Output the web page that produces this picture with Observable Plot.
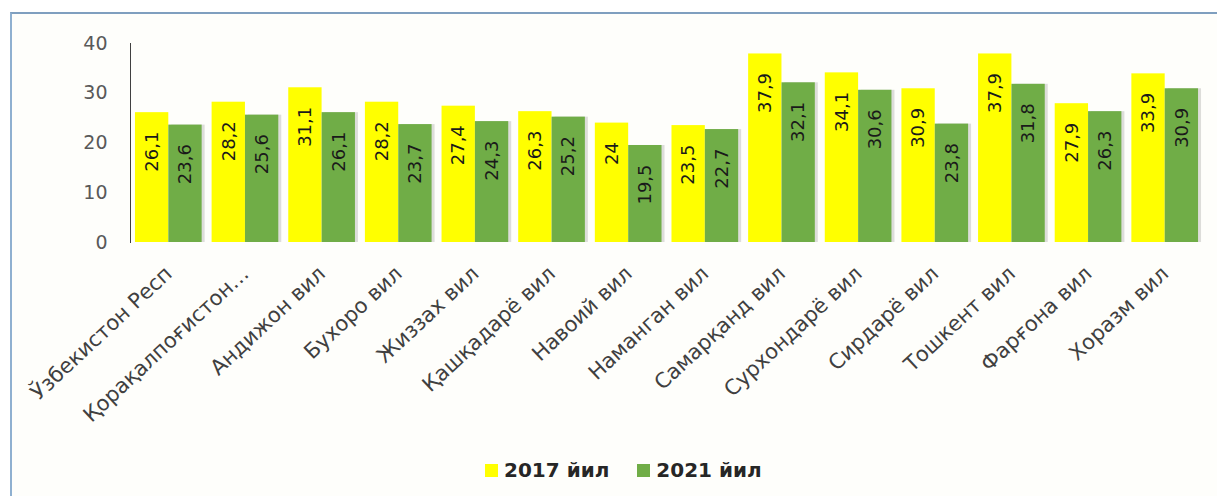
<!DOCTYPE html>
<html>
<head>
<meta charset="utf-8">
<script src="https://cdn.jsdelivr.net/npm/d3@7"></script>
<script src="https://cdn.jsdelivr.net/npm/@observablehq/plot@0.6"></script>
<style>
  html, body { margin: 0; padding: 0; background: #ffffff; }
  #wrap { position: relative; width: 1217px; height: 496px; overflow: hidden; background: #ffffff; }
  #frame { position: absolute; left: 10px; top: 12px; width: 1215px; height: 490px;
           border-left: 2px solid #8fb0d0; border-top: 2px solid #7f9fbf; background: #fefefb; }
  #chart { position: absolute; left: 0; top: 0; }
  #chart svg { overflow: visible; }
  #chart g[aria-label^="y-axis"] text { font-size: 19px; fill: #595959; }
  #chart g[aria-label^="x-axis"] text { font-size: 21px; fill: #404040; }
  #legend { position: absolute; left: 485px; top: 458px; display: flex; align-items: center;
            font-family: "DejaVu Sans", sans-serif; font-weight: bold; font-size: 20px; color: #262626; }
  #legend .item { display: flex; align-items: center; margin-right: 28px; }
  #legend .sw { width: 13px; height: 13px; margin-right: 6px; }
</style>
</head>
<body>
<div id="wrap">
  <div id="frame"></div>
  <div id="chart"></div>
  <div id="legend"></div>
</div>
<script>
const regions = [
  "Ўзбекистон Респ", "Қорақалпоғистон…", "Андижон вил", "Бухоро вил", "Жиззах вил",
  "Қашқадарё вил", "Навоий вил", "Наманган вил", "Самарқанд вил", "Сурхондарё вил",
  "Сирдарё вил", "Тошкент вил", "Фарғона вил", "Хоразм вил"
];
const values2017 = [26.1, 28.2, 31.1, 28.2, 27.4, 26.3, 24, 23.5, 37.9, 34.1, 30.9, 37.9, 27.9, 33.9];
const values2021 = [23.6, 25.6, 26.1, 23.7, 24.3, 25.2, 19.5, 22.7, 32.1, 30.6, 23.8, 31.8, 26.3, 30.9];
const years = ["2017 йил", "2021 йил"];
const colors = ["#FFFF00", "#70AD47"];
const yTicks = [0, 10, 20, 30, 40];

const d2017 = regions.map((r, i) => ({region: r, year: years[0], value: values2017[i]}));
const d2021 = regions.map((r, i) => ({region: r, year: years[1], value: values2021[i]}));
const fmt = v => String(v).replace(".", ",");

// half of each category band: the two bars of a region share the band
const half = 33.35;

const chart = Plot.plot({
  width: 1217,
  height: 440,
  marginTop: 43,
  marginBottom: 198,
  marginLeft: 130,
  marginRight: 14,
  style: {background: "transparent", fontFamily: "DejaVu Sans, sans-serif", color: "#404040"},
  x: {domain: regions, range: [125, 1208], padding: 0.13, round: false, label: null,
      tickRotate: -43, tickSize: 0, tickPadding: 28},
  y: {domain: [0, 40], ticks: yTicks, tickSize: 0, tickPadding: 23, line: true, label: null},
  marks: [
    Plot.barY(d2021, {x: "region", y: "value", insetLeft: half, fill: "#000", fillOpacity: 0.13, dx: 3}),
    Plot.barY(d2017, {x: "region", y: "value", insetRight: half, fill: colors[0]}),
    Plot.barY(d2021, {x: "region", y: "value", insetLeft: half, fill: colors[1]}),
    Plot.text(d2017, {x: "region", y: "value", text: d => fmt(d.value), dx: -half / 2,
      rotate: -90, textAnchor: "end", dy: 19, fontSize: 18, fill: "#1a1a1a"}),
    Plot.text(d2021, {x: "region", y: "value", text: d => fmt(d.value), dx: half / 2,
      rotate: -90, textAnchor: "end", dy: 19, fontSize: 18, fill: "#1a1a1a"})
  ]
});
document.getElementById("chart").appendChild(chart);

const legend = document.getElementById("legend");
years.forEach((y, i) => {
  const item = document.createElement("div");
  item.className = "item";
  const sw = document.createElement("div");
  sw.className = "sw";
  sw.style.background = colors[i];
  const t = document.createElement("span");
  t.textContent = y;
  item.appendChild(sw);
  item.appendChild(t);
  legend.appendChild(item);
});
</script>
</body>
</html>
